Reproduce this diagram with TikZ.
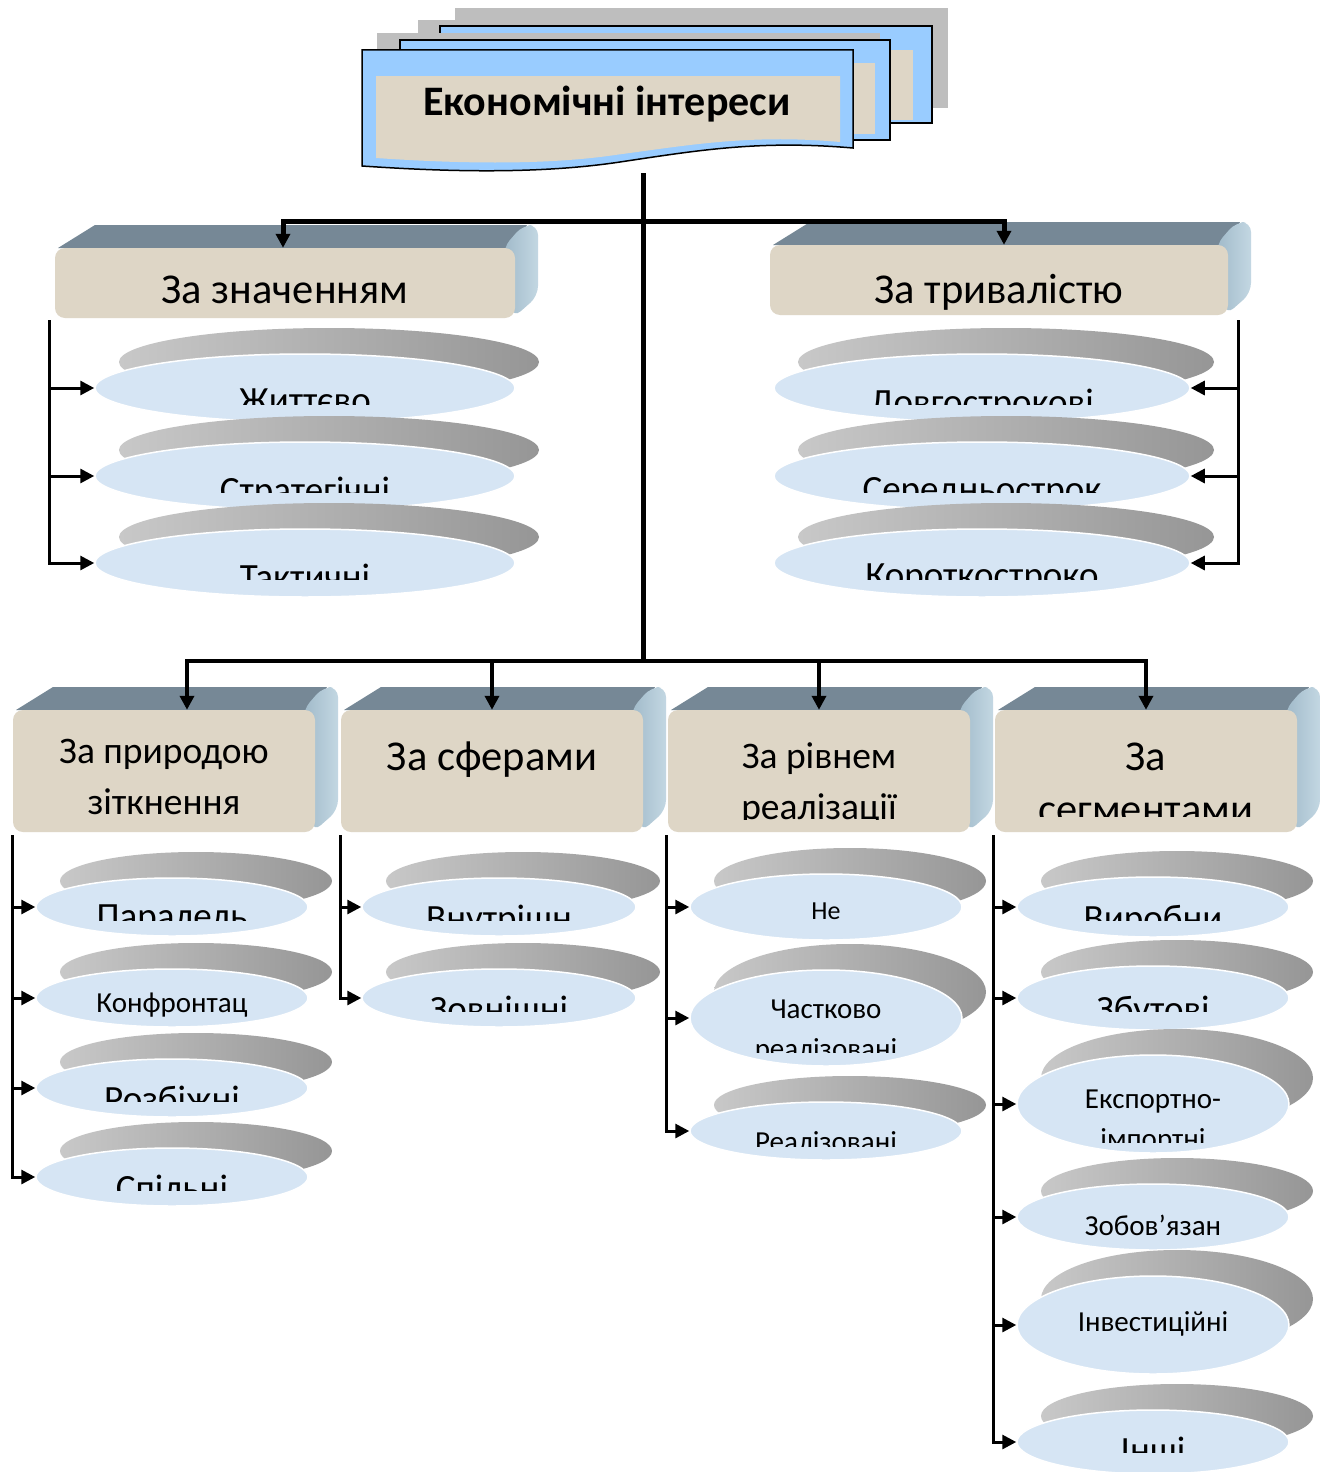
\documentclass[tikz,border=0pt]{standalone}
\usepackage{fontspec}
\setmainfont{Carlito}
\usepackage{tikz}
\usetikzlibrary{arrows.meta, positioning, shapes.geometric, calc}
\definecolor{colFace}{RGB}{222,214,198}
\definecolor{colTop}{RGB}{118,136,150}
\definecolor{colSide}{RGB}{170,198,214}
\definecolor{colDisc}{RGB}{214,229,244}
\definecolor{colShadowL}{RGB}{200,200,200}
\definecolor{colShadowR}{RGB}{150,150,150}
\definecolor{colDocBlue}{RGB}{153,204,255}
\definecolor{colDocGray}{RGB}{190,190,190}

% 3D category box: name, x0, y0, x1, y1, text top, clip bottom, font style, text
\newcommand{\catbox}[9]{%
  \fill[boxtop] (#2+3,#3) -- (#2+40,#3-23) -- (#4+12,#3-23) -- (#4,#3) -- cycle;
  \path[boxside, rounded corners=10pt] (#4-12,#3) -- (#4+8,#3-23) -- (#4+23,#3-23)
    -- (#4+23,#5-22) -- (#4-2,#5) -- cycle;
  \node[boxface, minimum width={#4-#2}, minimum height={#5-#3}] (#1)
    at ({(#2+#4)/2},{(#3+#5)/2}) {};
  \begin{scope}
    \clip (#2,#3) rectangle (#4,#7);
    \node[boxtext, #8] (#1-text) at ({(#2+#4)/2},#6) {#9};
  \end{scope}%
}

% disc with shadow: name, cx, cy, rx, ry, text top, clip bottom, font style, text
\newcommand{\discitem}[9]{%
  \path[discshadow] ({#2+24},{#3-26}) ellipse [x radius=#4, y radius=#5];
  \node[discbody, minimum width={2*#4}, minimum height={2*#5}] (#1) at (#2,#3) {};
  \begin{scope}
    \clip ({#2-#4},{#3-#5-2}) rectangle ({#2+#4},#7);
    \node[disctext, #8] (#1-text) at (#2,#6) {#9};
  \end{scope}%
}

\begin{document}
\begin{tikzpicture}[x=1pt, y=-1pt,
  boxtop/.style={fill=colTop},
  boxside/.style={left color=colSide!80!colTop, right color=colSide!70!white},
  boxface/.style={rectangle, rounded corners=10pt, fill=colFace, inner sep=0pt},
  boxtext/.style={inner sep=0pt, align=center, anchor=north},
  discshadow/.style={left color=colShadowL, right color=colShadowR},
  discbody/.style={ellipse, fill=colDisc, draw=white, line width=1.5pt, inner sep=0pt},
  disctext/.style={inner sep=0pt, align=center, anchor=north},
  headA/.style={font=\fontsize{42.5}{53}\selectfont},
  headB/.style={font=\fontsize{37.5}{51}\selectfont},
  bigtext/.style={font=\fontsize{37}{40}\selectfont},
  smalltext/.style={font=\fontsize{29}{40}\selectfont},
  tinytext/.style={font=\fontsize{26}{30}\selectfont},
  doc/.style={fill=colDocBlue, draw=black, line width=1.5pt},
  arr/.style={-{Triangle[length=14pt, width=14pt]}, line width=#1},
  arr/.default=3pt,
]
\fill[white] (0,0) rectangle (1331,1472);
\useasboundingbox (0,0) rectangle (1331,1472);

% title documents
\fill[colDocGray] (455,8) rectangle (948,108);
\fill[colDocGray] (418,20) rectangle (920,118);
\filldraw[doc] (440,26) rectangle (932,123);
\fill[colFace] (455,50) rectangle (913,120);
\fill[colDocGray] (377,33) rectangle (880,135);
\filldraw[doc] (400,40) rectangle (890,140);
\fill[colFace] (414,63) rectangle (875,134);
\filldraw[doc] (362,50) -- (853,50) -- (853,148) .. controls (760,140) and (700,150) .. (620,162)
  .. controls (540,174) and (450,172) .. (362,166) -- cycle;
\fill[colFace] (376,76) -- (840,76) -- (840,142) .. controls (750,134) and (690,145) .. (615,155)
  .. controls (540,166) and (450,163) .. (376,158) -- cycle;
\node[font=\fontsize{42}{46}\selectfont\bfseries, inner sep=0pt] (title) at (607,104) {Економічні інтереси};

% category boxes
\catbox{znach}{55}{248}{515}{318}{276}{330}{headA}{За значенням}
\catbox{tryv}{770}{245}{1228}{315}{274}{330}{headA}{За тривалістю}
\catbox{prir}{13}{710}{315}{832}{739}{840}{headB}{За природою\\зіткнення}
\catbox{sfer}{341}{710}{643}{832}{742}{840}{headA}{За сферами}
\catbox{rivn}{668}{710}{970}{832}{742}{819}{headB}{За рівнем\\реалізації}
\catbox{segm}{995}{710}{1297}{832}{743}{816}{headA}{За\\сегментами}

% discs
\discitem{zh}{305}{388}{210}{34}{389}{404}{bigtext}{Життєво}
\discitem{st}{305}{476}{210}{34}{477}{492}{bigtext}{Стратегічні}
\discitem{ta}{305}{563}{210}{34}{564}{579}{bigtext}{Тактичні}
\discitem{dov}{982}{388}{208}{34}{389}{404}{bigtext}{Довгострокові}
\discitem{ser}{982}{476}{208}{34}{477}{492}{bigtext}{Середньострок}
\discitem{kor}{982}{563}{208}{34}{564}{579}{bigtext}{Короткостроко}

\discitem{par}{172}{907}{136}{29}{905}{920}{bigtext}{Паралель}
\discitem{kon}{172}{998}{136}{29}{993}{1030}{smalltext}{Конфронтац}
\discitem{roz}{172}{1088}{136}{29}{1086}{1101}{bigtext}{Розбіжні}
\discitem{spi}{172}{1177}{136}{29}{1175}{1190}{bigtext}{Спільні}

\discitem{vnu}{499}{907}{137}{29}{905}{920}{bigtext}{Внутрішн}
\discitem{zov}{499}{998}{137}{29}{996}{1011}{bigtext}{Зовнішні}

\discitem{ne}{826}{907}{136}{33}{903}{940}{tinytext}{Не}
\discitem{cha}{826}{1018}{136}{48}{1000}{1052}{smalltext}{Частково\\реалізовані}
\discitem{rea}{826}{1131}{136}{29}{1131}{1146}{smalltext}{Реалізовані}

\discitem{vyr}{1153}{907}{136}{30}{905}{920}{bigtext}{Виробни}
\discitem{zbu}{1153}{998}{136}{32}{996}{1011}{bigtext}{Збутові}
\discitem{eks}{1153}{1104}{136}{49}{1090}{1142}{smalltext}{Експортно-\\імпортні}
\discitem{zob}{1153}{1217}{136}{33}{1215}{1250}{smalltext}{Зобов’язан}
\discitem{inv}{1153}{1325}{136}{49}{1311}{1374}{smalltext}{Інвестиційні}
\discitem{ins}{1153}{1442}{136}{32}{1437}{1452}{bigtext}{Інші}

% trunk and branches
\coordinate (titlefoot) at (643,173);
\coordinate (j1) at (643,221);
\coordinate (j2) at (643,661);
\draw[line width=5pt] (titlefoot) -- (j2);
\draw[arr=5pt] (j1) -| ([xshift=-2pt]znach.north);
\draw[arr=5pt] (j1) -| ([xshift=5pt]tryv.north);
\draw[arr=4pt] (j2) -| ([xshift=23pt]prir.north);
\draw[arr=4pt] (j2) -| (sfer.north);
\draw[arr=4pt] (j2) -| (rivn.north);
\draw[arr=4pt] (j2) -| (segm.north);

% brackets
\coordinate (b1) at (49,320);
\coordinate (b2) at (1238,320);
\coordinate (b3) at (12,835);
\coordinate (b4) at (340,835);
\coordinate (b5) at (666,835);
\coordinate (b6) at (993,835);
\foreach \d in {zh,st,ta} \draw[arr] (b1) |- (\d.west);
\foreach \d in {dov,ser,kor} \draw[arr] (b2) |- (\d.east);
\foreach \d in {par,kon,roz,spi} \draw[arr] (b3) |- (\d.west);
\foreach \d in {vnu,zov} \draw[arr] (b4) |- (\d.west);
\foreach \d in {ne,cha,rea} \draw[arr] (b5) |- (\d.west);
\foreach \d in {vyr,zbu,eks,zob,inv,ins} \draw[arr] (b6) |- (\d.west);
\end{tikzpicture}
\end{document}
